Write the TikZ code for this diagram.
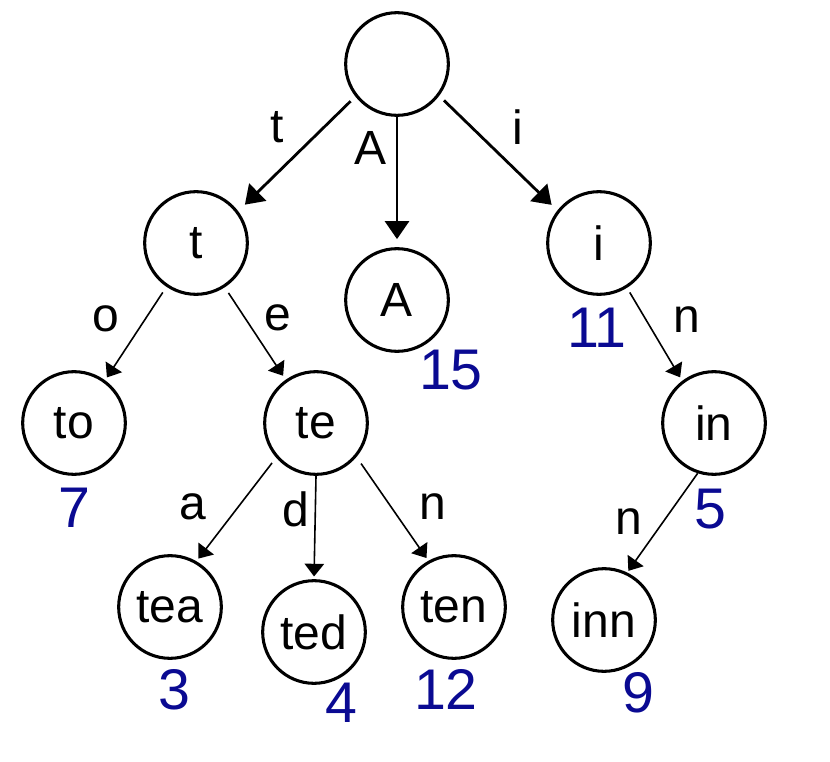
\documentclass[tikz,border=0pt]{standalone}
\usepackage{fontspec}
\setmainfont{Liberation Sans}
\usepackage{tikz}
\usetikzlibrary{arrows.meta}
\definecolor{numblue}{HTML}{0A0A92}

\begin{document}
\begin{tikzpicture}[
    x=0.75pt, y=-0.75pt,
    state/.style={circle, draw, line width=2.3pt, minimum size=77pt, inner sep=0pt,
                  font=\fontsize{36}{36}\selectfont},
    bigarrow/.style={-{Triangle[length=13.5pt, width=18pt]}, line width=2.1pt},
    arrow/.style={-{Triangle[length=9.5pt, width=14.5pt]}, line width=1.2pt},
    letter/.style={font=\fontsize{36}{36}\selectfont},
    weight/.style={font=\fontsize{43}{43}\selectfont, text=numblue}
  ]
    \useasboundingbox (0,0) rectangle (830,762);

    % trie nodes
    \node[state] (root) at (397,64) {};
    \node[state] (t) at (196,243) {t};
    \node[state] (A) at (397,300) {A};
    \node[state] (i) at (599,243) {i};
    \node[state] (to) at (74,423) {to};
    \node[state] (te) at (316,423) {te};
    \node[state] (in) at (714,423) {in};
    \node[state] (tea) at (170,607) {tea};
    \node[state] (ted) at (314,632) {ted};
    \node[state] (ten) at (454,607) {ten};
    \node[state] (inn) at (604,620) {inn};

    % edges
    \draw[bigarrow, shorten <=5pt, shorten >=7pt] (root.218) -- (t.37);
    \draw[bigarrow, shorten >=6pt] (root.south) -- (A.north);
    \draw[bigarrow, shorten <=5pt, shorten >=6pt] (root.323) -- (i.142);
    \draw[arrow, shorten <=5pt, shorten >=2.5pt] (t.236) -- (to.54);
    \draw[arrow, shorten <=5pt, shorten >=3.5pt] (t.303) -- (te.125);
    \draw[arrow, shorten <=4pt, shorten >=3pt] (i.302) -- (in.127);
    \draw[arrow, shorten <=5pt, shorten >=2.5pt] (te.221) -- (tea.60);
    \draw[arrow, shorten >=2pt] (te.south) -- (ted.north);
    \draw[arrow, shorten <=6pt, shorten >=2.5pt] (te.320) -- (ten.119);
    \draw[arrow, shorten >=1.5pt] (in.252) -- (inn.64);

    % edge letters
    \node[letter] (lt) at (277,127) {t};
    \node[letter] (lA) at (371,148) {A};
    \node[letter] (li) at (518,127) {i};
    \node[letter] (lo) at (106,319) {o};
    \node[letter] (le) at (278,318) {e};
    \node[letter] (ln1) at (687,320) {n};
    \node[letter] (la) at (193,507) {a};
    \node[letter] (ld) at (296,509) {d};
    \node[letter] (ln2) at (433,507) {n};
    \node[letter] (ln3) at (629,522) {n};

    % word counts
    \node[weight] (c15) at (451,370) {15};
    \node[weight] (c11) at (597,328) {11};
    \node[weight] (c7) at (74,508) {7};
    \node[weight] (c5) at (710,509) {5};
    \node[weight] (c3) at (174,690) {3};
    \node[weight] (c4) at (341,703) {4};
    \node[weight] (c12) at (446,689) {12};
    \node[weight] (c9) at (638,693) {9};
\end{tikzpicture}
\end{document}
